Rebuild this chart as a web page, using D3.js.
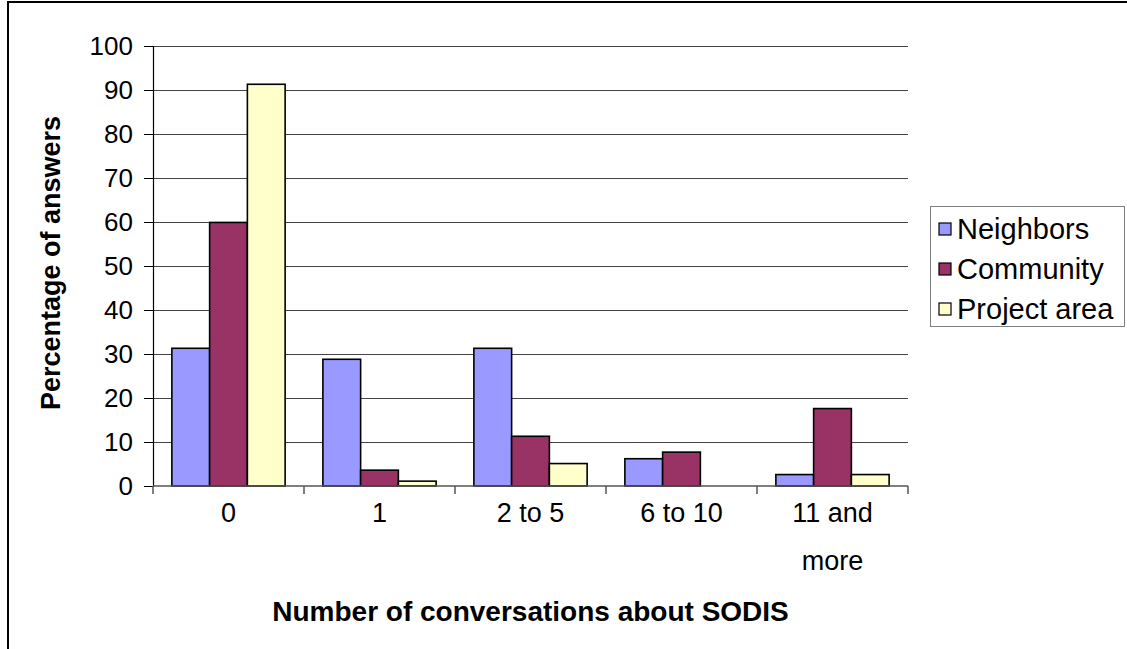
<!DOCTYPE html>
<html>
<head>
<meta charset="utf-8">
<script src="https://cdn.jsdelivr.net/npm/d3@7"></script>
<style>
  html, body { margin: 0; padding: 0; background: #fff; }
  svg { display: block; font-family: "Liberation Sans", Arial, sans-serif; }
</style>
</head>
<body>
<svg id="chart" width="1127" height="649"></svg>
<script>
// Survey answers: how many conversations about SODIS people had
const categories = ["0", "1", "2 to 5", "6 to 10", "11 and more"];
const categoryLines = [["0"], ["1"], ["2 to 5"], ["6 to 10"], ["11 and", "more"]];
const seriesNames = ["Neighbors", "Community", "Project area"];
const neighbors = [31.3, 28.8, 31.3, 6.2, 2.6];
const community = [59.9, 3.6, 11.3, 7.7, 17.6];
const projectArea = [91.3, 1.1, 5.1, 0, 2.6];
const seriesColors = ["#9999FF", "#993366", "#FFFFCC"];
const yTicks = [0, 10, 20, 30, 40, 50, 60, 70, 80, 90, 100];

const seriesValues = [neighbors, community, projectArea];

const svg = d3.select("#chart");

// Outer chart frame
svg.append("rect")
  .attr("x", 8).attr("y", 2)
  .attr("width", 1200).attr("height", 700)
  .attr("fill", "none").attr("stroke", "#000").attr("stroke-width", 2);

const plot = { left: 153, right: 908, top: 46, bottom: 486 };

const x = d3.scaleBand()
  .domain(categories)
  .range([plot.left, plot.right])
  .paddingInner(0).paddingOuter(0);

const y = d3.scaleLinear()
  .domain([0, 100])
  .range([plot.bottom, plot.top]);

// Bars take three quarters of each category slot, centred
const inner = d3.scaleBand()
  .domain(seriesNames)
  .range([x.bandwidth() * 0.125, x.bandwidth() * 0.875]);

// Horizontal gridlines
svg.append("g")
  .selectAll("line")
  .data(yTicks.filter(t => t > 0))
  .join("line")
  .attr("x1", plot.left).attr("x2", plot.right)
  .attr("y1", d => Math.round(y(d)) + 0.5).attr("y2", d => Math.round(y(d)) + 0.5)
  .attr("stroke", "#444").attr("stroke-width", 1);

// Bars
const groups = svg.append("g")
  .selectAll("g")
  .data(categories)
  .join("g")
  .attr("transform", d => `translate(${x(d)},0)`);

groups.selectAll("rect")
  .data((c, i) => seriesNames.map((s, j) => ({ s, j, v: seriesValues[j][i] })).filter(d => d.v > 0))
  .join("rect")
  .attr("x", d => inner(d.s))
  .attr("width", inner.bandwidth())
  .attr("y", d => y(d.v))
  .attr("height", d => y(0) - y(d.v))
  .attr("fill", d => seriesColors[d.j])
  .attr("stroke", "#000")
  .attr("stroke-width", 1.6);

// Y axis
const yAxis = d3.axisLeft(y)
  .tickValues(yTicks)
  .tickSize(9)
  .tickPadding(11)
  .tickFormat(d3.format("d"));

const yg = svg.append("g")
  .attr("transform", `translate(${plot.left},0)`)
  .call(yAxis);
yg.select(".domain").attr("stroke", "#000").attr("stroke-width", 1.2);
yg.selectAll(".tick line").attr("stroke", "#000");
yg.selectAll(".tick text")
  .attr("font-size", 26)
  .attr("fill", "#000")
  .attr("font-family", "Liberation Sans, Arial, sans-serif");

// X axis: ticks fall on the category boundaries
const xg = svg.append("g");
xg.append("line")
  .attr("x1", plot.left).attr("x2", plot.right)
  .attr("y1", plot.bottom).attr("y2", plot.bottom)
  .attr("stroke", "#555").attr("stroke-width", 1.5);
const boundaries = categories.map(c => x(c)).concat([x(categories[categories.length - 1]) + x.bandwidth()]);
xg.selectAll("line.tk")
  .data(boundaries)
  .join("line")
  .attr("class", "tk")
  .attr("x1", d => d).attr("x2", d => d)
  .attr("y1", plot.bottom).attr("y2", plot.bottom + 8)
  .attr("stroke", "#555").attr("stroke-width", 1.5);

xg.selectAll("text")
  .data(categories)
  .join("text")
  .attr("text-anchor", "middle")
  .attr("font-size", 27)
  .attr("fill", "#000")
  .each(function (d, i) {
    const t = d3.select(this);
    categoryLines[i].forEach((line, k) => {
      t.append("tspan")
        .attr("x", x(d) + x.bandwidth() / 2)
        .attr("y", 522 + k * 48)
        .text(line);
    });
  });

// Axis titles
svg.append("text")
  .attr("x", (plot.left + plot.right) / 2)
  .attr("y", 621)
  .attr("text-anchor", "middle")
  .attr("font-size", 28)
  .attr("font-weight", "bold")
  .attr("fill", "#000")
  .text("Number of conversations about SODIS");

svg.append("text")
  .attr("transform", `translate(60,${(plot.top + plot.bottom) / 2 - 3}) rotate(-90)`)
  .attr("text-anchor", "middle")
  .attr("font-size", 27)
  .attr("font-weight", "bold")
  .attr("fill", "#000")
  .text("Percentage of answers");

// Legend
const legend = svg.append("g");
legend.append("rect")
  .attr("x", 930.5).attr("y", 206.5)
  .attr("width", 194).attr("height", 120)
  .attr("fill", "#fff").attr("stroke", "#808080").attr("stroke-width", 1);

const items = legend.selectAll("g.item")
  .data(seriesNames)
  .join("g")
  .attr("class", "item")
  .attr("transform", (d, i) => `translate(939,${229 + i * 40})`);
items.append("rect")
  .attr("x", 0).attr("y", -6)
  .attr("width", 12).attr("height", 12)
  .attr("fill", (d, i) => seriesColors[i])
  .attr("stroke", "#000").attr("stroke-width", 1.2);
items.append("text")
  .attr("x", 18).attr("y", 10)
  .attr("font-size", 29)
  .attr("fill", "#000")
  .text(d => d);
</script>
</body>
</html>
